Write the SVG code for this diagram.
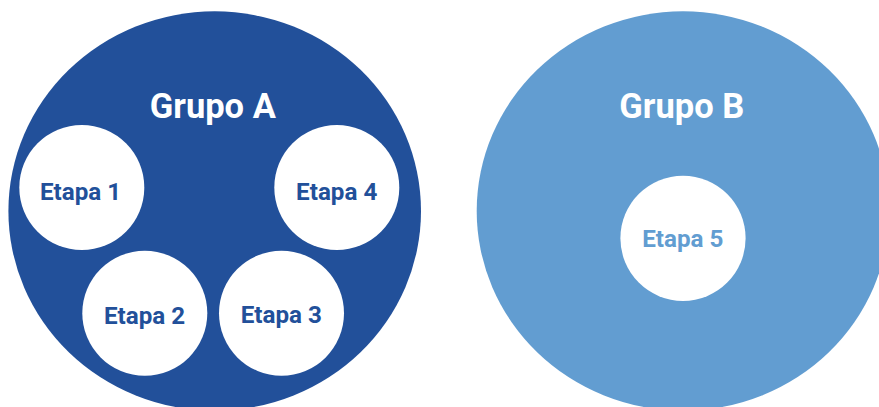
<svg xmlns="http://www.w3.org/2000/svg" width="879" height="407" viewBox="0 0 879 407">
<style>
.title{font-family:Roboto,"Liberation Sans",sans-serif;font-weight:bold;font-size:34.5px;fill:#ffffff;text-anchor:middle}
.lbl{font-family:Roboto,"Liberation Sans",sans-serif;font-weight:bold;font-size:24.2px;text-anchor:middle}
.a{fill:#22509a}
.b{fill:#629dd1}
.w{fill:#ffffff}
</style>
<rect width="879" height="407" fill="#ffffff"/>
<g id="grupo-a">
<ellipse class="a" cx="214.7" cy="211" rx="206.3" ry="199.7"/>
<text class="title" x="212.8" y="118.3">Grupo A</text>
</g>
<g id="grupo-b">
<ellipse class="b" cx="683" cy="211" rx="206.3" ry="199.7"/>
<text class="title" x="681.8" y="118.3">Grupo B</text>
</g>
<g id="etapa-1">
<circle class="w" cx="81.8" cy="187.5" r="62.5"/>
<text class="lbl a" x="80.5" y="200">Etapa 1</text>
</g>
<g id="etapa-4">
<circle class="w" cx="336.8" cy="187.5" r="62.5"/>
<text class="lbl a" x="336.7" y="200">Etapa 4</text>
</g>
<g id="etapa-2">
<circle class="w" cx="144.8" cy="313.2" r="62.5"/>
<text class="lbl a" x="144.5" y="324">Etapa 2</text>
</g>
<g id="etapa-3">
<circle class="w" cx="281.5" cy="313.2" r="62.5"/>
<text class="lbl a" x="281.3" y="322.7">Etapa 3</text>
</g>
<g id="etapa-5">
<circle class="w" cx="683" cy="238.3" r="62.6"/>
<text class="lbl b" x="682.8" y="247.3">Etapa 5</text>
</g>
<g id="connectors"></g>
</svg>
